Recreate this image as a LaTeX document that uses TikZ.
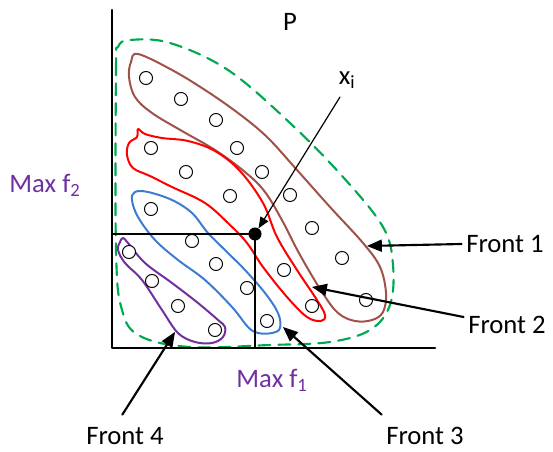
\documentclass[tikz,border=0pt]{standalone}
\usepackage{fontspec}
\setmainfont{Carlito}
\usetikzlibrary{arrows}
\definecolor{brun}{RGB}{160,82,72}
\definecolor{bleu}{RGB}{62,124,210}
\definecolor{violet}{RGB}{112,48,160}
\definecolor{vert}{RGB}{0,168,80}
\tikzset{sol/.style={circle,draw,inner sep=0pt,minimum size=9.8pt,line width=.75pt},
	lab/.style={font=\fontsize{20}{24}\selectfont},
	fleche/.style={->,line width=1.6pt},
	front/.style={line width=1.5pt}}

\begin{document}
\begin{tikzpicture}[line cap=round,line join=round,>=triangle 45,x=0.75pt,y=-0.75pt]
			\useasboundingbox (0,0) rectangle (553,452);
			%enveloppe P
			\draw [vert,line width=1.6pt,dash pattern=on 9pt off 6pt] plot[smooth cycle,tension=0.6] coordinates {(116,250) (116,70) (118,47) (130,40) (170,43) (228,70) (290,123) (343,177) (383,227) (393,265) (390,305) (370,330) (330,342) (270,345) (190,347) (140,336) (122,310)};
			%fronts
			\draw [brun,front] plot[smooth cycle,tension=0.6] coordinates {(138,54) (172,70) (205,90) (238,113) (267,137) (297,170) (330,207) (363,243) (380,267) (386,293) (383,312) (372,320) (355,321) (338,313) (322,292) (300,255) (283,222) (265,192) (245,172) (215,150) (182,131) (152,113) (135,97) (129,77) (131,62)};
			\draw [red,front] plot[smooth cycle,tension=0.6] coordinates {(138,129) (145,134) (162,138) (188,141) (215,151) (240,171) (263,203) (277,237) (297,270) (317,300) (325,315) (321,321) (307,317) (287,297) (263,267) (247,243) (230,225) (205,203) (172,187) (150,176) (133,168) (127,155) (129,143) (137,137)};
			\draw [bleu,front] plot[smooth cycle,tension=0.6] coordinates {(135,192) (148,192) (172,200) (192,213) (208,233) (228,253) (245,270) (265,293) (278,313) (280,328) (272,333) (258,333) (248,327) (232,307) (205,280) (178,260) (155,240) (138,217) (132,200)};
			\draw [violet,front] plot[smooth cycle,tension=0.6] coordinates {(123,238) (128,243) (145,263) (172,283) (198,303) (218,320) (225,327) (223,337) (212,343) (195,342) (178,333) (162,310) (142,280) (125,263) (118,250) (120,242)};
			%solutions
			\foreach \p [count=\i] in {(146,78),(181,99),(216,120),(237,148),(262,172),(290,195),(312,228),(342,258),(366,300),
				(151,148),(186,172),(230,196),(284,270),(312,306),
				(151,209),(192,241),(216,264),(247,288),(267,321),
				(129,252),(152,281),(178,306),(215,330)}
				\node[sol,fill=white] (s\i) at \p {};
			%axes
			\coordinate (ytop) at (112,10);
			\coordinate (O) at (112,348);
			\coordinate (xend) at (435,348);
			\draw [line width=1.9pt] (ytop) -- (O) -- (xend);
			\node[circle,fill,inner sep=0pt,minimum size=9.8pt] (xi) at (255,234) {};
			\coordinate (xf2) at (112,234);
			\coordinate (xf1) at (255,348);
			\draw [line width=1.5pt] (xf2) -- (xi.center) -- (xf1);
			%textes
			\node[lab] (P) at (290,22) {P};
			\node[lab] (xl) at (347,80) {x\textsubscript{i}};
			\node[lab,violet] (mf2) at (45,185) {Max f\textsubscript{2}};
			\node[lab,violet] (mf1) at (272,380) {Max f\textsubscript{1}};
			\node[lab] (f1) at (505,244) {Front 1};
			\node[lab] (f2) at (507,325) {Front 2};
			\node[lab] (f3) at (425,436) {Front 3};
			\node[lab] (f4) at (125,436) {Front 4};
			%fleches
			\coordinate (xa) at (340,97);
			\coordinate (t1) at (367,246);
			\coordinate (t2) at (312,287);
			\coordinate (t3) at (283,327);
			\coordinate (t4) at (175,332);
			\draw [->,line width=.9pt] (xa) -- (xi);
			\draw [fleche] (f1.west) -- (t1);
			\draw [fleche] ([yshift=6pt]f2.west) -- (t2);
			\draw [fleche] ([yshift=6pt]f3.north west) -- (t3);
			\draw [fleche] ([xshift=-2pt,yshift=6pt]f4.north) -- (t4);
\end{tikzpicture}
\end{document}
